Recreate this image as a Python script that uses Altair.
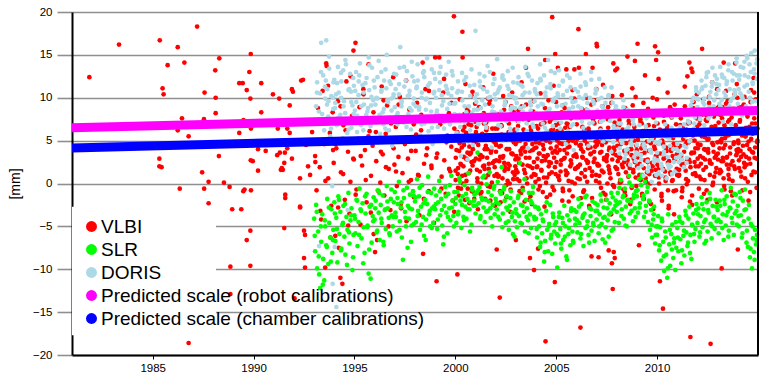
import altair as alt
import pandas as pd

# ---------------- data (year, scale difference in mm) ----------------
VLBI_EARLY = [
    (1981.86, 12.4), (1983.33, 16.2), (1985.35, 16.7), (1987.2, 18.3), (1986.24, 15.9),
    (1985.74, 13.8), (1986.57, 14.1), (1988.3, 14.6), (1989.86, 15.1), (1988.1, 13.2),
    (1989.79, 13.0), (1985.49, 11.1), (1985.54, 10.4), (1987.57, 10.6), (1988.12, 10.0),
    (1989.29, 11.7), (1989.46, 11.7), (1989.66, 10.9), (1989.84, 9.9), (1990.38, 11.7),
    (1990.96, 10.4), (1991.27, 9.9), (1991.95, 10.7), (1991.79, 9.1), (1990.38, 8.3),
    (1988.12, 8.2), (1986.45, 7.6), (1987.54, 7.5), (1989.5, 7.4), (1986.24, 6.2),
    (1986.78, 5.5), (1989.29, 5.9), (1989.87, 6.4), (1991.2, 6.4), (1991.67, 6.4),
    (1991.79, 5.9), (1990.22, 4.0), (1990.6, 3.8), (1991.17, 3.3), (1991.3, 3.6),
    (1991.55, 3.6), (1991.67, 4.1), (1991.9, 2.9), (1991.52, 2.4), (1991.4, 1.8),
    (1991.45, 1.6), (1991.35, 1.6), (1985.33, 2.9), (1985.33, 2.0), (1985.44, 1.9),
    (1988.28, 3.2), (1989.86, 2.7), (1989.96, 2.6), (1987.45, 1.3), (1987.77, 0.2),
    (1988.53, 0.1), (1988.81, -0.4), (1986.34, -0.6), (1987.55, -0.6), (1990.22, 1.5),
    (1992.3, 0.6), (1992.36, 12.0), (1989.49, -0.9), (1989.55, -0.7), (1989.87, -0.8),
    (1987.77, -2.3), (1988.94, -3.0), (1989.39, -3.0), (1991.57, -1.3), (1991.57, -1.7),
    (1992.31, -2.8), (1989.84, -5.5), (1989.66, -6.6), (1991.52, -5.2), (1988.85, -9.7),
    (1989.84, -9.6), (1988.85, -12.9), (1992.03, -13.4), (1986.78, -18.6), (1991.9, 11.0),
]
VLBI_1990S = [
    (1992.45, 12.1), (1992.5, -5.5), (1992.55, -6.0), (1992.5, -8.7), (1992.55, -9.8),
    (1992.6, 4.5), (1992.7, 2.0), (1992.8, 1.0), (1992.9, 6.0), (1992.3, -2.7),
    (1993.05, 3.2), (1993.12, -0.8), (1993.2, 7.4), (1993.28, 1.9), (1993.35, -4.2),
    (1993.42, 10.8), (1993.5, 4.6), (1993.55, -9.8), (1993.6, 14.0), (1993.62, 13.7),
    (1993.7, 0.6), (1993.78, 5.9), (1993.85, -2.6), (1993.92, 8.3), (1993.97, 2.4),
    (1994.05, -6.1), (1994.1, 4.1), (1994.18, 9.6), (1994.22, -7.5), (1994.3, -11.0),
    (1994.33, 1.3), (1994.4, -11.7), (1994.45, 6.8), (1994.52, -1.9), (1994.6, 11.9),
    (1994.68, 3.7), (1994.75, -3.5), (1994.8, 0.2), (1994.88, 7.9), (1994.95, 15.5),
    (1994.97, 2.8), (1995.05, 16.4), (1995.1, -0.7), (1995.18, 5.2), (1995.25, 8.9),
    (1995.3, -4.8), (1995.38, 2.1), (1995.45, 10.4), (1995.52, 3.9), (1995.6, -2.2),
    (1995.7, 13.9), (1995.75, 6.1), (1995.82, 0.9), (1995.9, 4.4), (1995.95, -5.9),
    (1996.02, -8.0), (1996.08, 2.6), (1996.12, -6.6), (1996.2, 7.2), (1996.28, 0.1),
    (1996.35, 11.3), (1996.4, 3.4), (1996.48, -1.4), (1996.55, 5.8), (1996.62, 9.1),
    (1996.7, 1.7), (1996.78, -3.1), (1996.85, 4.9), (1996.92, 12.4), (1996.98, 2.2),
    (1997.05, 6.6), (1997.1, -0.3), (1997.18, 3.1), (1997.25, 10.1), (1997.3, -2.4),
    (1997.38, 1.2), (1997.45, 7.7), (1997.5, 4.6), (1997.58, -4.4), (1997.65, 2.9),
    (1997.72, 8.6), (1997.8, 0.4), (1997.88, 5.3), (1997.95, -1.6), (1998.03, 3.8),
    (1998.1, 9.4), (1998.15, 1.0), (1998.22, -3.7), (1998.3, 6.2), (1998.38, 14.1),
    (1998.4, -8.2), (1998.45, 2.3), (1998.52, 11.0), (1998.6, 4.1), (1998.68, -0.9),
    (1998.75, 7.3), (1998.82, 1.8), (1998.9, 5.0), (1998.95, -2.9), (1999.0, 14.7),
    (1999.07, -11.4), (1999.1, 3.5), (1999.2, 14.7), (1999.25, 6.9), (1999.32, 0.8),
    (1999.4, 10.6), (1999.45, 2.7), (1999.52, -1.2), (1999.6, 5.6), (1999.68, 8.2),
    (1999.75, 1.4), (1999.8, 4.3), (1999.88, -2.0), (1999.93, 19.5), (1999.95, 6.4),
    (1993.06, 2.5), (1993.19, 8.8), (1993.31, -3.2), (1993.44, 5.0), (1993.56, 0.3),
    (1993.69, 11.4), (1993.81, -6.3), (1993.94, 3.9), (1994.06, 4.6), (1994.19, -2.8),
    (1994.31, 9.0), (1994.44, 1.1), (1994.56, 6.2), (1994.69, -4.9), (1994.81, 12.5),
    (1994.94, 2.9), (1995.06, -1.3), (1995.19, 7.5), (1995.31, 3.2), (1995.44, 11.0),
    (1995.56, 0.4), (1995.69, 5.5), (1995.81, -3.4), (1995.94, 8.3), (1996.06, 6.0),
    (1996.19, -0.9), (1996.31, 3.7), (1996.44, 9.7), (1996.56, 1.9), (1996.69, -5.0),
    (1996.81, 7.0), (1996.94, 4.1), (1997.06, 1.4), (1997.19, 9.2), (1997.31, -2.9),
    (1997.44, 5.1), (1997.56, 12.0), (1997.69, 0.2), (1997.81, 3.8), (1997.94, 6.9),
    (1998.06, 5.7), (1998.19, 0.9), (1998.31, 8.0), (1998.44, -1.8), (1998.56, 3.3),
    (1998.69, 10.8), (1998.81, 2.1), (1998.94, -4.6), (1999.06, 3.0), (1999.19, 7.9),
    (1999.31, -0.6), (1999.44, 12.2), (1999.56, 4.8), (1999.69, 1.7), (1999.81, 9.4),
    (1999.94, -3.3),
]
VLBI_2000S = [
    (2000.02, 3.0), (2000.06, 7.9), (2000.1, -10.6), (2000.12, 1.1), (2000.18, 5.4),
    (2000.22, 9.8), (2000.28, -0.6), (2000.32, 4.2), (2000.35, 17.7), (2000.36, 14.7),
    (2000.4, 2.0), (2000.45, 6.6), (2000.5, 11.6), (2000.55, 0.3), (2000.6, 3.6),
    (2000.65, 8.4), (2000.7, -2.3), (2000.75, 5.1), (2000.8, 2.5), (2000.85, 10.7),
    (2000.9, -1.0), (2000.95, 4.8), (2001.02, 6.0), (2001.07, 1.6), (2001.12, -3.0),
    (2001.17, 8.8), (2001.22, 3.3), (2001.28, 0.0), (2001.33, 5.7), (2001.38, 11.2),
    (2001.43, 2.1), (2001.48, -1.8), (2001.53, 7.1), (2001.58, 4.0), (2001.63, 1.0),
    (2001.68, 9.3), (2001.73, -0.4), (2001.78, 3.9), (2001.83, 6.4), (2001.88, 12.8),
    (2001.93, 2.6), (2001.97, -2.6), (2002.02, 4.5), (2002.05, -7.7), (2002.1, 8.1),
    (2002.15, 0.9), (2002.2, -13.3), (2002.22, 3.1), (2002.27, 6.8), (2002.32, -1.1),
    (2002.37, 10.2), (2002.42, 2.4), (2002.47, 5.3), (2002.52, -0.2), (2002.57, 7.6),
    (2002.62, 1.7), (2002.67, 4.0), (2002.72, -3.3), (2002.77, 9.0), (2002.82, 3.5),
    (2002.87, 0.5), (2002.92, 6.1), (2002.97, 2.0), (2003.0, -6.6), (2003.03, 5.5),
    (2003.08, 1.3), (2003.13, 8.5), (2003.18, -0.9), (2003.23, 3.8), (2003.28, 11.8),
    (2003.33, 2.2), (2003.38, 6.3), (2003.43, -2.1), (2003.48, 4.6), (2003.5, 13.5),
    (2003.53, 0.6), (2003.6, 15.7), (2003.62, 7.4), (2003.67, 3.0), (2003.7, -8.7),
    (2003.72, -1.5), (2003.77, 5.9), (2003.82, 1.8), (2003.87, 9.6), (2003.9, -10.1),
    (2003.92, 4.1), (2003.97, 0.2), (2004.02, 6.7), (2004.07, 2.9), (2004.1, -7.6),
    (2004.12, -0.7), (2004.17, 4.7), (2004.22, 10.5), (2004.27, 1.5), (2004.32, 7.0),
    (2004.37, 3.2), (2004.42, -2.7), (2004.45, 14.4), (2004.47, -18.4), (2004.5, 5.0),
    (2004.55, 0.7), (2004.6, 8.3), (2004.65, 2.5), (2004.7, -1.3), (2004.75, 6.2),
    (2004.8, 19.4), (2004.82, 3.6), (2004.87, 11.4), (2004.93, -11.5), (2004.95, 15.1),
    (2004.97, 1.1), (2005.02, 4.3), (2005.08, 13.5), (2005.1, 7.8), (2005.15, 0.4),
    (2005.2, 5.6), (2005.25, 2.7), (2005.3, -2.0), (2005.35, 9.1), (2005.4, 3.9),
    (2005.45, 6.5), (2005.5, 13.3), (2005.55, 1.2), (2005.6, 4.9), (2005.65, -0.8),
    (2005.7, 8.0), (2005.75, 2.3), (2005.8, 10.9), (2005.85, 5.2), (2005.9, 13.3),
    (2005.92, 0.0), (2005.97, 3.4), (2006.02, 6.9), (2006.07, 1.9), (2006.1, 18.0),
    (2006.12, 13.5), (2006.15, 4.4), (2006.2, -16.8), (2006.22, -1.7), (2006.27, 8.7),
    (2006.32, 3.0), (2006.37, 5.8), (2006.42, 0.8), (2006.47, 15.1), (2006.5, 10.0),
    (2006.55, 2.4), (2006.6, 6.4), (2006.65, -2.8), (2006.7, 4.2), (2006.75, -8.5),
    (2006.78, 1.4), (2006.8, 13.5), (2006.83, 7.5), (2006.88, 3.7), (2006.93, 9.7),
    (2006.97, 0.3), (2007.0, 16.3), (2007.02, 16.0), (2007.05, 5.0), (2007.1, -8.6),
    (2007.12, 2.1), (2007.17, 7.2), (2007.22, -0.5), (2007.27, 4.5), (2007.32, 11.5),
    (2007.37, 2.8), (2007.42, 6.0), (2007.47, -1.9), (2007.52, 3.3), (2007.57, 8.9),
    (2007.6, -7.8), (2007.62, 1.6), (2007.67, 5.4), (2007.72, -3.6), (2007.76, -9.3),
    (2007.8, -12.3), (2007.83, 14.0), (2007.85, -8.0), (2007.88, 3.9), (2007.9, -8.7),
    (2007.93, 13.2), (2007.97, 6.8), (2008.02, 13.4), (2008.05, 2.6), (2008.1, 7.9),
    (2008.15, 0.1), (2008.2, 4.8), (2008.25, 10.3), (2008.3, 1.9), (2008.35, 6.2),
    (2008.4, -1.0), (2008.45, 3.5), (2008.5, 8.6), (2008.53, 14.8), (2008.57, 2.2),
    (2008.62, 5.7), (2008.67, -2.4), (2008.72, 4.0), (2008.77, 11.1), (2008.82, 1.3),
    (2008.87, 6.6), (2008.9, 14.3), (2008.93, 3.1), (2008.97, -0.3), (2009.03, 16.3),
    (2009.05, 5.1), (2009.1, -7.2), (2009.12, 1.0), (2009.17, 7.5), (2009.22, 3.4),
    (2009.27, -1.5), (2009.32, 9.4), (2009.37, 4.3), (2009.4, 12.6), (2009.43, 0.6),
    (2009.48, 6.0), (2009.53, 2.5), (2009.58, 8.1), (2009.63, -2.2), (2009.68, 4.7),
    (2009.73, 1.5), (2009.78, 10.0), (2009.83, 5.3), (2009.88, -0.7), (2009.9, 16.0),
    (2009.95, 14.4), (2009.97, 3.0),
]
VLBI_2000S_B = [
    (2000.01, 1.5), (2000.08, 5.9), (2000.13, -0.5), (2000.19, 3.8), (2000.24, 7.4),
    (2000.29, 2.2), (2000.34, 0.9), (2000.39, 6.2), (2000.43, 4.5), (2000.48, -1.9),
    (2000.53, 2.9), (2000.58, 8.7), (2000.63, 5.3), (2000.67, 1.2), (2000.72, 3.4),
    (2000.78, 6.8), (2000.82, -0.9), (2000.87, 4.0), (2000.92, 2.6), (2000.98, 9.3),
    (2001.01, 4.9), (2001.09, 0.6), (2001.14, 7.3), (2001.19, 2.8), (2001.24, -1.2),
    (2001.31, 5.6), (2001.35, 3.1), (2001.41, 8.2), (2001.45, 1.7), (2001.51, 4.4),
    (2001.56, 6.5), (2001.61, -0.3), (2001.66, 2.3), (2001.71, 9.7), (2001.76, 3.6),
    (2001.81, 0.1), (2001.86, 5.2), (2001.91, 7.9), (2001.95, 1.9), (2001.99, 4.7),
    (2002.03, 2.7), (2002.08, 6.4), (2002.12, 0.8), (2002.18, 4.3), (2002.24, -2.2),
    (2002.29, 5.7), (2002.34, 3.0), (2002.39, 7.8), (2002.44, 1.5), (2002.49, 9.5),
    (2002.54, 4.0), (2002.59, 0.3), (2002.64, 6.0), (2002.69, 2.1), (2002.74, -0.7),
    (2002.79, 5.1), (2002.84, 3.4), (2002.89, 8.4), (2002.94, 1.0), (2002.99, 4.6),
    (2003.02, 3.2), (2003.06, 0.5), (2003.11, 6.7), (2003.16, 2.4), (2003.21, 5.0),
    (2003.26, -1.1), (2003.31, 4.1), (2003.36, 7.5), (2003.41, 1.6), (2003.46, 3.7),
    (2003.51, 9.2), (2003.56, 0.0), (2003.64, 5.5), (2003.69, 2.0), (2003.74, 6.2),
    (2003.79, -2.4), (2003.84, 3.9), (2003.89, 1.1), (2003.94, 8.0), (2003.99, 4.8),
    (2004.04, 1.9), (2004.09, 5.4), (2004.14, 3.5), (2004.19, -0.3), (2004.24, 6.9),
    (2004.29, 2.6), (2004.34, 4.5), (2004.39, 0.7), (2004.44, 8.8), (2004.49, 3.1),
    (2004.53, -1.6), (2004.58, 5.8), (2004.63, 2.0), (2004.68, 7.2), (2004.73, 4.1),
    (2004.78, 1.3), (2004.84, 6.3), (2004.89, -0.8), (2004.94, 3.8), (2004.99, 9.5),
    (2005.04, 3.6), (2005.06, 6.1), (2005.12, 0.9), (2005.17, 4.7), (2005.22, 2.2),
    (2005.27, 8.3), (2005.32, -0.6), (2005.37, 5.4), (2005.42, 3.0), (2005.47, 1.5),
    (2005.52, 7.0), (2005.57, 4.2), (2005.62, -2.1), (2005.67, 6.6), (2005.72, 2.7),
    (2005.77, 0.2), (2005.82, 5.0), (2005.87, 9.6), (2005.94, 3.3), (2005.99, 1.8),
    (2006.03, 5.2), (2006.08, 2.0), (2006.13, 7.7), (2006.17, 0.5), (2006.24, 4.0),
    (2006.29, 3.1), (2006.34, -1.0), (2006.39, 6.3), (2006.44, 1.6), (2006.49, 8.6),
    (2006.53, 4.6), (2006.58, 2.5), (2006.63, -2.6), (2006.68, 5.6), (2006.72, 3.5),
    (2006.77, 0.9), (2006.86, 7.1), (2006.9, 2.9), (2006.95, 4.9), (2006.99, 11.0),
    (2007.04, 2.3), (2007.08, 4.8), (2007.14, 0.1), (2007.19, 6.4), (2007.24, 3.7),
    (2007.29, 9.0), (2007.34, 1.3), (2007.39, 5.3), (2007.44, -1.3), (2007.49, 3.0),
    (2007.54, 7.5), (2007.59, 2.0), (2007.64, 4.2), (2007.69, 0.6), (2007.74, 6.0),
    (2007.78, 10.2), (2007.82, 3.5), (2007.87, -0.4), (2007.92, 5.7), (2007.99, 1.7),
    (2008.03, 4.4), (2008.08, 1.1), (2008.12, 6.8), (2008.17, 3.0), (2008.22, 0.2),
    (2008.27, 5.6), (2008.32, 8.2), (2008.37, 2.5), (2008.42, -1.4), (2008.47, 4.7),
    (2008.52, 3.6), (2008.59, 7.3), (2008.64, 1.8), (2008.69, 5.0), (2008.74, -0.5),
    (2008.79, 9.1), (2008.84, 2.9), (2008.89, 6.1), (2008.94, 0.7), (2008.99, 3.9),
    (2009.01, 2.0), (2009.07, 5.9), (2009.14, 3.3), (2009.19, 0.4), (2009.24, 7.0),
    (2009.29, 4.5), (2009.34, -1.8), (2009.39, 2.7), (2009.45, 6.3), (2009.5, 1.3),
    (2009.55, 8.7), (2009.6, 3.8), (2009.65, 0.0), (2009.7, 5.2), (2009.75, 2.4),
    (2009.8, -3.0), (2009.85, 6.7), (2009.89, 4.0), (2009.93, 1.6), (2009.99, 9.8),
]
VLBI_2000S_C = [
    (2000.015, 0.4), (2000.055, 3.9), (2000.095, 6.0), (2000.135, 1.8), (2000.175, -1.4),
    (2000.215, 4.7), (2000.255, 2.3), (2000.295, 7.6), (2000.335, 5.5), (2000.375, 0.0),
    (2000.415, 3.1), (2000.455, 8.1), (2000.495, 1.0), (2000.535, 5.9), (2000.575, 2.8),
    (2000.615, -0.6), (2000.655, 6.9), (2000.695, 4.3), (2000.735, 1.5), (2000.775, 3.6),
    (2000.815, 10.2), (2000.855, 2.1), (2000.895, 5.0), (2000.935, -1.8), (2000.975, 7.2),
    (2001.015, 2.9), (2001.055, 6.6), (2001.095, 0.2), (2001.135, 4.5), (2001.175, 8.9),
    (2001.215, 1.4), (2001.255, 3.3), (2001.295, -1.0), (2001.335, 5.8), (2001.375, 2.0),
    (2001.415, 7.0), (2001.455, 4.0), (2001.495, 0.7), (2001.535, 6.2), (2001.575, 3.0),
    (2001.615, 9.9), (2001.655, 1.7), (2001.695, 5.1), (2001.735, -2.0), (2001.775, 3.8),
    (2001.815, 7.7), (2001.855, 2.4), (2001.895, 4.9), (2001.935, 0.9), (2001.975, 6.4),
    (2002.015, 3.7), (2002.055, 1.1), (2002.095, 5.5), (2002.135, 7.9), (2002.175, 2.6),
    (2002.215, -0.9), (2002.255, 4.4), (2002.295, 6.7), (2002.335, 0.6), (2002.375, 3.2),
    (2002.415, 8.6), (2002.455, 1.9), (2002.495, 5.1), (2002.535, -1.6), (2002.575, 4.0),
    (2002.615, 2.3), (2002.655, 7.0), (2002.695, 0.0), (2002.735, 5.9), (2002.775, 3.5),
    (2002.815, 10.6), (2002.855, 1.3), (2002.895, 4.8), (2002.935, 6.3), (2002.975, 2.8),
    (2003.015, 1.6), (2003.055, 4.9), (2003.095, 7.3), (2003.135, 2.9), (2003.175, 0.3),
    (2003.215, 5.6), (2003.255, 3.4), (2003.295, 9.0), (2003.335, -0.5), (2003.375, 4.2),
    (2003.415, 6.0), (2003.455, 1.2), (2003.495, 3.0), (2003.535, 7.8), (2003.575, 2.1),
    (2003.615, 5.1), (2003.655, -1.9), (2003.695, 3.8), (2003.735, 6.6), (2003.775, 0.8),
    (2003.815, 4.6), (2003.855, 8.4), (2003.895, 2.5), (2003.935, 5.7), (2003.975, 1.0),
    (2004.015, 4.2), (2004.055, 2.0), (2004.095, 6.4), (2004.135, 0.5), (2004.175, 3.5),
    (2004.215, 8.0), (2004.255, 1.6), (2004.295, 5.2), (2004.335, -1.0), (2004.375, 4.0),
    (2004.415, 7.1), (2004.455, 2.7), (2004.495, 0.1), (2004.535, 6.0), (2004.575, 3.3),
    (2004.615, 9.7), (2004.655, 1.1), (2004.695, 4.8), (2004.735, 2.4), (2004.775, 7.5),
    (2004.815, -0.4), (2004.855, 5.5), (2004.895, 3.0), (2004.935, 1.9), (2004.975, 6.8),
    (2005.015, 2.5), (2005.055, 5.0), (2005.095, 0.8), (2005.135, 7.0), (2005.175, 3.9),
    (2005.215, 1.4), (2005.255, 6.2), (2005.295, 4.6), (2005.335, -0.9), (2005.375, 2.9),
    (2005.415, 8.8), (2005.455, 5.7), (2005.495, 1.0), (2005.535, 3.5), (2005.575, 6.9),
    (2005.615, 0.3), (2005.655, 4.3), (2005.695, 2.0), (2005.735, 7.6), (2005.775, 5.1),
    (2005.815, -1.5), (2005.855, 3.2), (2005.895, 9.9), (2005.935, 1.7), (2005.975, 4.7),
    (2006.015, 3.1), (2006.055, 0.6), (2006.095, 5.3), (2006.135, 7.8), (2006.175, 2.2),
    (2006.215, 4.5), (2006.255, 1.2), (2006.295, 6.6), (2006.335, 3.7), (2006.375, -0.8),
    (2006.415, 5.0), (2006.455, 8.3), (2006.495, 2.7), (2006.535, 0.2), (2006.575, 4.1),
    (2006.615, 6.1), (2006.655, 1.8), (2006.695, 3.4), (2006.735, 9.2), (2006.775, -1.7),
    (2006.815, 5.8), (2006.855, 2.5), (2006.895, 7.0), (2006.935, 4.3), (2006.975, 1.0),
    (2007.015, 4.5), (2007.055, 2.1), (2007.095, 6.0), (2007.135, 0.9), (2007.175, 3.6),
    (2007.215, 7.7), (2007.255, 1.5), (2007.295, 5.1), (2007.335, -1.1), (2007.375, 3.0),
    (2007.415, 8.4), (2007.455, 4.8), (2007.495, 2.6), (2007.535, 0.0), (2007.575, 6.5),
    (2007.615, 3.9), (2007.655, 1.2), (2007.695, 5.6), (2007.735, 9.4), (2007.775, 2.8),
    (2007.815, -0.2), (2007.855, 4.2), (2007.895, 7.1), (2007.935, 1.9), (2007.975, 3.3),
    (2008.015, 1.7), (2008.055, 5.2), (2008.095, 3.1), (2008.135, 7.4), (2008.175, 0.4),
    (2008.215, 4.6), (2008.255, 2.2), (2008.295, 6.3), (2008.335, -0.7), (2008.375, 3.8),
    (2008.415, 8.8), (2008.455, 1.3), (2008.495, 5.5), (2008.535, 2.7), (2008.575, 0.8),
    (2008.615, 6.9), (2008.655, 4.0), (2008.695, -1.9), (2008.735, 3.3), (2008.775, 7.9),
    (2008.815, 1.6), (2008.855, 5.0), (2008.895, 2.5), (2008.935, 10.1), (2008.975, 4.4),
    (2009.015, 3.0), (2009.055, 0.6), (2009.095, 5.7), (2009.135, 2.3), (2009.175, 7.2),
    (2009.215, 4.1), (2009.255, -1.2), (2009.295, 6.1), (2009.335, 1.8), (2009.375, 3.6),
    (2009.415, 8.4), (2009.455, 0.2), (2009.495, 4.9), (2009.535, 2.8), (2009.575, 6.8),
    (2009.615, 1.1), (2009.655, 3.9), (2009.695, -2.4), (2009.735, 5.4), (2009.775, 2.0),
    (2009.815, 7.7), (2009.855, 4.3), (2009.895, 0.9), (2009.935, 3.2), (2009.975, 6.0),
]
VLBI_2010S = [
    (2010.02, 7.0), (2010.05, 15.3), (2010.07, 12.2), (2010.1, 1.8), (2010.14, -11.4),
    (2010.17, 4.9), (2010.22, -1.2), (2010.27, 8.3), (2010.29, -14.6), (2010.32, 2.9),
    (2010.37, 6.1), (2010.42, 0.3), (2010.47, 3.8), (2010.52, 10.6), (2010.57, -2.9),
    (2010.62, 5.5), (2010.67, 1.1), (2010.72, 7.7), (2010.77, 3.2), (2010.82, -0.9),
    (2010.87, 9.2), (2010.92, 4.4), (2010.97, 1.7), (2011.02, 5.8), (2011.07, 0.9),
    (2011.12, 8.0), (2011.17, 3.0), (2011.22, -1.6), (2011.27, 6.5), (2011.32, 2.0),
    (2011.37, 11.3), (2011.42, 4.6), (2011.47, -0.1), (2011.5, 12.5), (2011.55, 7.1),
    (2011.6, 14.1), (2011.62, 2.5), (2011.65, -17.9), (2011.68, 5.0), (2011.7, 13.4),
    (2011.73, -2.5), (2011.75, 13.0), (2011.78, 8.8), (2011.83, 3.6), (2011.88, 1.2),
    (2011.93, 6.3), (2011.97, 10.4), (2012.02, 4.1), (2012.07, -0.6), (2012.12, 7.4),
    (2012.17, 2.3), (2012.23, 15.7), (2012.25, 5.6), (2012.3, 9.8), (2012.35, 0.4),
    (2012.4, 3.9), (2012.45, 7.9), (2012.5, -1.9), (2012.55, 5.2), (2012.6, 2.7),
    (2012.65, -18.7), (2012.68, 8.5), (2012.73, 11.8), (2012.78, 4.5), (2012.83, 0.8),
    (2012.88, 6.7), (2012.93, 3.3), (2012.97, -2.2), (2013.02, 6.0), (2013.07, 9.0),
    (2013.12, 1.6), (2013.17, 4.8), (2013.2, -9.9), (2013.22, 7.6), (2013.27, 2.6),
    (2013.3, 14.1), (2013.32, -0.3), (2013.37, 5.3), (2013.42, 10.8), (2013.47, 3.1),
    (2013.52, 7.2), (2013.57, 0.5), (2013.62, 4.2), (2013.67, 8.4), (2013.72, -1.4),
    (2013.77, 5.9), (2013.82, 2.0), (2013.87, 14.0), (2013.9, 6.8), (2013.95, 11.6),
    (2013.98, 3.6), (2014.0, -7.7), (2014.03, 4.7), (2014.08, 8.9), (2014.13, 1.4),
    (2014.18, 6.3), (2014.23, -0.8), (2014.28, 3.4), (2014.33, 10.1), (2014.38, 5.5),
    (2014.43, 2.2), (2014.48, 7.8), (2014.53, -2.0), (2014.58, 4.0), (2014.63, 9.5),
    (2014.68, 1.0), (2014.73, 6.0), (2014.78, 12.3), (2014.83, 3.0), (2014.88, 7.0),
    (2014.93, -0.5), (2014.97, 5.0),
]
VLBI_2010S_B = [
    (2010.01, 3.4), (2010.08, 0.7), (2010.12, 5.8), (2010.19, 2.1), (2010.24, -2.0),
    (2010.3, 4.6), (2010.34, 7.2), (2010.39, 1.4), (2010.44, 3.9), (2010.49, 6.4),
    (2010.54, -0.8), (2010.59, 2.6), (2010.64, 8.9), (2010.69, 4.2), (2010.74, 0.3),
    (2010.79, 5.3), (2010.84, -3.6), (2010.89, 2.9), (2010.94, 6.9), (2010.99, 1.0),
    (2011.04, 4.1), (2011.09, 1.6), (2011.14, 6.8), (2011.19, 3.2), (2011.24, -0.9),
    (2011.29, 5.5), (2011.34, 2.3), (2011.39, 8.4), (2011.44, 0.5), (2011.49, 4.9),
    (2011.53, 7.0), (2011.58, 2.8), (2011.63, -2.1), (2011.67, 6.0), (2011.72, 3.6),
    (2011.77, 1.1), (2011.81, 9.5), (2011.86, 5.0), (2011.91, 2.0), (2011.96, 7.6),
    (2012.01, 2.9), (2012.06, 6.2), (2012.1, 0.8), (2012.15, 4.5), (2012.2, 8.0),
    (2012.27, 3.0), (2012.32, -1.2), (2012.37, 5.4), (2012.42, 1.9), (2012.47, 7.3),
    (2012.52, 4.0), (2012.57, 10.1), (2012.62, 2.4), (2012.7, 6.6), (2012.75, -0.2),
    (2012.8, 3.7), (2012.85, 5.8), (2012.9, 1.3), (2012.95, 8.8), (2012.99, 4.8),
    (2013.01, 3.5), (2013.05, 7.1), (2013.1, 1.2), (2013.14, 5.0), (2013.19, 2.6),
    (2013.24, 8.9), (2013.29, 4.1), (2013.34, -0.7), (2013.39, 6.4), (2013.44, 3.0),
    (2013.49, 9.6), (2013.54, 1.7), (2013.59, 5.7), (2013.64, 2.2), (2013.69, 7.7),
    (2013.74, 0.3), (2013.79, 4.6), (2013.84, 10.4), (2013.92, 3.3), (2013.97, 6.0),
    (2014.02, 4.0), (2014.06, 1.8), (2014.11, 7.4), (2014.16, 3.1), (2014.21, 5.6),
    (2014.26, 9.0), (2014.31, 2.4), (2014.36, 0.6), (2014.41, 6.5), (2014.46, 4.5),
    (2014.51, 8.2), (2014.56, 2.9), (2014.61, -1.0), (2014.66, 5.2), (2014.71, 7.0),
    (2014.76, 3.6), (2014.81, 10.6), (2014.86, 1.3), (2014.91, 6.1), (2014.96, 4.8),
]
VLBI_2010S_C = [
    (2010.015, 2.2), (2010.055, 4.7), (2010.095, 0.0), (2010.135, 6.3), (2010.175, 3.5),
    (2010.215, -1.5), (2010.255, 5.0), (2010.295, 1.7), (2010.335, 7.9), (2010.375, 3.0),
    (2010.415, 0.7), (2010.455, 4.2), (2010.495, 6.7), (2010.535, 2.4), (2010.575, -2.6),
    (2010.615, 5.5), (2010.655, 1.3), (2010.695, 3.8), (2010.735, 8.6), (2010.775, 0.4),
    (2010.815, 4.6), (2010.855, 2.8), (2010.895, 6.1), (2010.935, -0.8), (2010.975, 3.4),
    (2011.015, 3.3), (2011.055, 5.9), (2011.095, 1.0), (2011.135, 4.4), (2011.175, 7.6),
    (2011.215, 2.2), (2011.255, -0.5), (2011.295, 5.2), (2011.335, 3.7), (2011.375, 9.0),
    (2011.415, 1.5), (2011.455, 6.3), (2011.495, 2.7), (2011.535, 0.3), (2011.575, 4.8),
    (2011.615, 7.1), (2011.655, 1.9), (2011.695, 3.5), (2011.735, -1.4), (2011.775, 5.6),
    (2011.815, 8.2), (2011.855, 2.5), (2011.895, 4.1), (2011.935, 0.9), (2011.975, 6.6),
    (2012.015, 4.6), (2012.055, 2.0), (2012.095, 6.9), (2012.135, 3.2), (2012.175, 0.5),
    (2012.215, 5.5), (2012.255, 8.3), (2012.295, 1.6), (2012.335, 4.0), (2012.375, 2.8),
    (2012.415, 7.4), (2012.455, -0.8), (2012.495, 5.1), (2012.535, 3.6), (2012.575, 9.4),
    (2012.615, 1.0), (2012.655, 6.2), (2012.695, 2.3), (2012.735, 4.7), (2012.775, 0.1),
    (2012.815, 7.8), (2012.855, 3.0), (2012.895, 5.8), (2012.935, 1.8), (2012.975, 11.0),
    (2013.015, 2.8), (2013.055, 6.0), (2013.095, 4.1), (2013.135, 8.0), (2013.175, 1.4),
    (2013.215, 5.2), (2013.255, 3.0), (2013.295, 0.6), (2013.335, 6.8), (2013.375, 4.5),
    (2013.415, 9.3), (2013.455, 2.2), (2013.495, 5.6), (2013.535, 1.0), (2013.575, 7.4),
    (2013.615, 3.5), (2013.655, -0.9), (2013.695, 6.3), (2013.735, 2.6), (2013.775, 8.7),
    (2013.815, 4.8), (2013.855, 1.7), (2013.895, 5.9), (2013.935, 3.9), (2013.975, 10.0),
    (2014.015, 5.0), (2014.055, 2.7), (2014.095, 7.2), (2014.135, 3.8), (2014.175, 0.8),
    (2014.215, 6.0), (2014.255, 4.4), (2014.295, 9.2), (2014.335, 1.9), (2014.375, 5.5),
    (2014.415, 3.1), (2014.455, 8.1), (2014.495, 0.2), (2014.535, 4.9), (2014.575, 6.6),
    (2014.615, 2.3), (2014.655, 10.9), (2014.695, 3.7), (2014.735, 5.8), (2014.775, 1.4),
    (2014.815, 7.6), (2014.855, 4.2), (2014.895, 9.8), (2014.935, 2.9), (2014.975, 6.4),
]

SLR_1990S = [
    (1993.0, -4.1), (1993.05, -7.9), (1993.1, -2.5), (1993.15, -9.9), (1993.2, -5.6),
    (1993.25, -10.6), (1993.3, -12.2), (1993.35, -6.8), (1993.4, -3.6), (1993.45, -8.8),
    (1993.5, -11.3), (1993.55, -5.0), (1993.6, -7.2), (1993.65, -1.8), (1993.7, -9.4),
    (1993.75, -4.6), (1993.8, -6.3), (1993.85, -3.0), (1993.9, -8.1), (1993.95, -5.4),
    (1994.0, -2.2), (1994.05, -6.7), (1994.1, -4.0), (1994.15, -9.2), (1994.2, -1.5),
    (1994.25, -5.9), (1994.3, -3.3), (1994.35, -7.6), (1994.4, -4.8), (1994.45, -2.6),
    (1994.5, -6.2), (1994.55, -8.3), (1994.6, -3.9), (1994.65, -5.4), (1994.7, -1.1),
    (1994.75, -7.0), (1994.8, -4.3), (1994.85, -2.9), (1994.9, -10.1), (1994.95, -6.0),
    (1995.0, -3.7), (1995.05, -5.8), (1995.1, -1.9), (1995.15, -7.3), (1995.2, -4.5),
    (1995.25, -0.6), (1995.3, -3.0), (1995.35, -6.4), (1995.4, -2.3), (1995.45, -5.1),
    (1995.5, -8.1), (1995.55, -3.5), (1995.6, -1.2), (1995.65, -4.9), (1995.7, -10.5),
    (1995.75, -2.7), (1995.8, -11.1), (1995.85, -6.9), (1995.9, -3.8), (1995.95, -1.6),
    (1996.0, -4.2), (1996.05, -2.0), (1996.1, -5.7), (1996.15, -0.8), (1996.2, -3.4),
    (1996.25, -6.6), (1996.3, -2.5), (1996.35, -4.6), (1996.4, -1.4), (1996.45, -7.2),
    (1996.5, -3.1), (1996.55, -5.3), (1996.6, -0.3), (1996.65, -2.9), (1996.7, -4.0),
    (1996.75, -6.0), (1996.8, -1.8), (1996.85, -3.7), (1996.9, -5.0), (1996.95, -2.2),
    (1997.0, -1.0), (1997.05, -3.9), (1997.1, -5.6), (1997.15, -2.4), (1997.2, 0.2),
    (1997.25, -4.4), (1997.3, -2.8), (1997.35, -6.3), (1997.4, -8.9), (1997.45, -1.7),
    (1997.5, -3.3), (1997.55, -5.0), (1997.6, -0.5), (1997.65, -2.6), (1997.7, -4.1),
    (1997.75, -1.3), (1997.8, -6.8), (1997.85, -3.0), (1997.9, -0.9), (1997.95, -4.7),
    (1998.0, -2.1), (1998.05, -4.5), (1998.1, 0.5), (1998.15, -3.2), (1998.2, -1.5),
    (1998.25, -5.4), (1998.3, -2.7), (1998.35, -0.2), (1998.4, -3.9), (1998.45, -6.1),
    (1998.5, -1.9), (1998.55, -4.2), (1998.6, -2.4), (1998.65, 0.8), (1998.7, -3.6),
    (1998.75, -5.0), (1998.8, -1.1), (1998.85, -2.9), (1998.9, -4.6), (1998.95, -0.6),
    (1999.0, -3.0), (1999.05, -1.4), (1999.1, -5.3), (1999.15, -2.2), (1999.2, 0.3),
    (1999.25, -3.7), (1999.3, -1.8), (1999.35, -4.9), (1999.4, -7.1), (1999.45, -2.6),
    (1999.5, -0.4), (1999.55, -3.4), (1999.6, -5.8), (1999.65, -1.2), (1999.7, -2.9),
    (1999.75, -4.3), (1999.8, 0.9), (1999.85, -2.0), (1999.9, -3.8), (1999.95, -1.0),
    (1993.03, -6.1), (1993.13, -3.3), (1993.23, -8.5), (1993.33, -5.0), (1993.43, -11.8),
    (1993.53, -4.3), (1993.63, -7.4), (1993.73, -2.8), (1993.83, -9.1), (1993.93, -6.6),
    (1994.03, -3.5), (1994.13, -5.3), (1994.23, -1.9), (1994.33, -7.8), (1994.43, -4.6),
    (1994.53, -2.4), (1994.63, -9.5), (1994.73, -5.7), (1994.83, -3.7), (1994.93, -8.6),
    (1995.03, -4.1), (1995.13, -2.0), (1995.23, -6.0), (1995.33, -3.2), (1995.43, -9.3),
    (1995.53, -1.5), (1995.63, -5.1), (1995.73, -7.7), (1995.83, -2.5), (1995.93, -4.4),
    (1996.03, -2.9), (1996.13, -5.5), (1996.23, -1.1), (1996.33, -4.1), (1996.43, -6.8),
    (1996.53, -3.0), (1996.63, -2.1), (1996.73, -5.8), (1996.83, -0.7), (1996.93, -3.9),
    (1997.03, -3.4), (1997.13, -1.7), (1997.23, -5.4), (1997.33, -2.2), (1997.43, -0.8),
    (1997.53, -4.0), (1997.63, -7.5), (1997.73, -2.9), (1997.83, -4.9), (1997.93, -1.4),
    (1998.03, -1.6), (1998.13, -3.8), (1998.23, -0.5), (1998.33, -4.8), (1998.43, -2.3),
    (1998.53, -6.6), (1998.63, -1.0), (1998.73, -3.2), (1998.83, -5.2), (1998.93, -2.7),
    (1999.03, -2.4), (1999.13, -4.2), (1999.23, -0.9), (1999.33, -3.1), (1999.43, -6.2),
    (1999.53, -1.5), (1999.63, -3.9), (1999.73, -0.2), (1999.83, -2.8), (1999.93, -5.0),
]
SLR_2000S = [
    (2000.0, -2.4), (2000.05, -4.6), (2000.1, -1.0), (2000.15, -3.3), (2000.2, 0.6),
    (2000.25, -2.0), (2000.3, -5.2), (2000.35, -1.5), (2000.4, -3.9), (2000.45, -0.2),
    (2000.5, -2.7), (2000.55, -4.1), (2000.6, -1.8), (2000.65, 1.2), (2000.7, -3.0),
    (2000.75, -2.2), (2000.8, -4.8), (2000.85, -0.8), (2000.9, -2.6), (2000.95, -1.3),
    (2001.0, -3.5), (2001.05, -1.1), (2001.1, 3.6), (2001.15, -2.3), (2001.2, -0.4),
    (2001.25, -3.8), (2001.3, -1.6), (2001.35, 0.7), (2001.4, -2.8), (2001.45, -4.5),
    (2001.5, -1.9), (2001.55, -0.1), (2001.6, -3.2), (2001.65, -2.1), (2001.7, 1.3),
    (2001.75, -4.0), (2001.8, -1.4), (2001.85, -2.5), (2001.9, -0.6), (2001.95, -3.6),
    (2002.0, -1.8), (2002.05, -3.0), (2002.1, 0.2), (2002.15, -2.4), (2002.2, -4.2),
    (2002.25, -1.2), (2002.3, 1.9), (2002.35, -3.5), (2002.4, -0.7), (2002.45, -2.0),
    (2002.5, -4.6), (2002.55, -1.5), (2002.6, -3.1), (2002.65, -5.4), (2002.7, -2.6),
    (2002.75, -0.9), (2002.8, -3.9), (2002.85, -5.9), (2002.9, -2.2), (2002.95, -4.4),
    (2003.0, -3.0), (2003.05, -5.1), (2003.1, -1.7), (2003.15, -3.8), (2003.2, 2.4),
    (2003.25, -2.5), (2003.3, -4.7), (2003.35, -0.8), (2003.4, -3.3), (2003.45, -5.6),
    (2003.5, -1.9), (2003.55, -2.9), (2003.6, -4.3), (2003.65, -1.1), (2003.7, -3.6),
    (2003.75, -5.2), (2003.8, -2.3), (2003.85, -0.4), (2003.9, -3.9), (2003.95, -2.7),
    (2004.0, -4.1), (2004.05, -6.3), (2004.1, -2.8), (2004.15, -5.0), (2004.2, -7.4),
    (2004.25, -3.6), (2004.3, -5.8), (2004.35, -4.4), (2004.4, -9.1), (2004.45, -6.7),
    (2004.5, -3.2), (2004.55, -5.4), (2004.6, -7.9), (2004.65, -4.7), (2004.7, -2.5),
    (2004.75, -6.0), (2004.8, -8.2), (2004.85, -3.9), (2004.9, -5.6), (2004.95, -7.0),
    (2005.0, -4.5), (2005.05, -9.8), (2005.1, -6.1), (2005.15, -3.4), (2005.2, -5.3),
    (2005.25, -7.6), (2005.3, -4.0), (2005.35, -6.6), (2005.4, -2.6), (2005.45, -5.0),
    (2005.5, -8.5), (2005.55, -3.7), (2005.6, -5.9), (2005.65, -4.3), (2005.7, -7.2),
    (2005.75, -2.9), (2005.8, -5.6), (2005.85, -6.9), (2005.9, -3.1), (2005.95, -4.8),
    (2006.0, -3.3), (2006.05, -5.7), (2006.1, -1.8), (2006.15, -4.6), (2006.2, -6.4),
    (2006.25, -2.4), (2006.3, -4.0), (2006.35, -7.3), (2006.4, -3.5), (2006.45, -5.2),
    (2006.5, -1.4), (2006.55, -4.4), (2006.6, -6.0), (2006.65, -2.9), (2006.7, -3.8),
    (2006.75, -5.5), (2006.8, -2.1), (2006.85, -4.9), (2006.9, -6.7), (2006.95, -3.2),
    (2007.0, -4.2), (2007.05, -2.5), (2007.1, -5.8), (2007.15, -3.6), (2007.2, -1.3),
    (2007.25, -4.7), (2007.3, -6.5), (2007.35, -2.8), (2007.4, -3.9), (2007.45, -5.1),
    (2007.5, -1.9), (2007.55, -4.3), (2007.6, -6.2), (2007.65, -2.3), (2007.7, -3.4),
    (2007.75, -5.5), (2007.8, -1.6), (2007.85, -3.0), (2007.9, -4.5), (2007.95, -2.0),
    (2008.0, -3.3), (2008.05, -1.1), (2008.1, -4.6), (2008.15, -2.2), (2008.2, 0.4),
    (2008.25, -3.0), (2008.3, -1.6), (2008.35, -4.1), (2008.4, -0.6), (2008.45, -2.7),
    (2008.5, -5.0), (2008.55, -1.9), (2008.6, 0.9), (2008.65, -3.5), (2008.7, -2.1),
    (2008.75, -0.3), (2008.8, -4.4), (2008.85, -1.3), (2008.9, -2.9), (2008.95, -0.9),
    (2009.0, -1.5), (2009.05, -3.4), (2009.1, 0.5), (2009.15, -2.3), (2009.2, -0.2),
    (2009.25, 1.0), (2009.3, -1.8), (2009.35, -3.9), (2009.4, 0.2), (2009.45, -2.6),
    (2009.5, -1.0), (2009.55, -4.5), (2009.6, -2.0), (2009.65, -5.4), (2009.7, -3.1),
    (2009.75, -6.3), (2009.8, -4.2), (2009.85, -2.7), (2009.9, -7.0), (2009.95, -5.0),
    (2000.03, -1.7), (2000.13, -3.6), (2000.23, 0.2), (2000.33, -2.5), (2000.43, -4.3),
    (2000.53, -1.2), (2000.63, -3.0), (2000.73, -5.6), (2000.83, -0.5), (2000.93, -2.0),
    (2001.03, -2.6), (2001.13, -0.8), (2001.23, -4.1), (2001.33, -1.9), (2001.43, 0.9),
    (2001.53, -3.3), (2001.63, -1.0), (2001.73, -2.9), (2001.83, -5.0), (2001.93, -0.3),
    (2002.03, -2.2), (2002.13, -3.9), (2002.23, -1.0), (2002.33, -5.1), (2002.43, -0.4),
    (2002.53, -2.8), (2002.63, -4.4), (2002.73, -1.7), (2002.83, -3.4), (2002.93, -6.2),
    (2003.03, -3.5), (2003.13, -1.4), (2003.23, -4.6), (2003.33, -2.6), (2003.43, 0.5),
    (2003.53, -3.9), (2003.63, -5.8), (2003.73, -2.0), (2003.83, -1.1), (2003.93, -4.2),
    (2004.03, -5.3), (2004.13, -3.0), (2004.23, -6.9), (2004.33, -4.2), (2004.43, -8.0),
    (2004.53, -2.2), (2004.63, -5.0), (2004.73, -6.4), (2004.83, -3.5), (2004.93, -4.8),
    (2005.03, -5.9), (2005.13, -3.9), (2005.23, -7.0), (2005.33, -4.6), (2005.43, -6.2),
    (2005.53, -8.9), (2005.63, -5.2), (2005.73, -3.2), (2005.83, -6.7), (2005.93, -4.1),
    (2006.03, -4.3), (2006.13, -2.7), (2006.23, -5.9), (2006.33, -3.7), (2006.43, -1.6),
    (2006.53, -5.0), (2006.63, -6.9), (2006.73, -3.0), (2006.83, -4.6), (2006.93, -2.3),
    (2007.03, -3.2), (2007.13, -5.0), (2007.23, -2.0), (2007.33, -4.0), (2007.43, -6.9),
    (2007.53, -2.9), (2007.63, -3.6), (2007.73, -1.1), (2007.83, -5.3), (2007.93, -2.6),
    (2008.03, -2.4), (2008.13, -0.5), (2008.23, -3.8), (2008.33, -1.4), (2008.43, -4.9),
    (2008.53, -2.0), (2008.63, 0.1), (2008.73, -3.2), (2008.83, -1.7), (2008.93, -3.9),
    (2009.03, -0.8), (2009.13, -2.8), (2009.23, 0.7), (2009.33, -1.4), (2009.43, -3.3),
    (2009.53, -0.4), (2009.63, -2.1), (2009.73, -4.8), (2009.83, -3.6), (2009.93, -6.0),
]
SLR_2010S = [
    (2010.0, -6.0), (2010.05, -3.8), (2010.1, -7.8), (2010.15, -5.1), (2010.2, -9.0),
    (2010.25, -4.4), (2010.3, -6.8), (2010.35, -10.2), (2010.4, -5.6), (2010.45, -8.3),
    (2010.5, -11.0), (2010.55, -3.6), (2010.6, -7.1), (2010.65, -9.6), (2010.7, -5.9),
    (2010.75, -4.8), (2010.8, -8.7), (2010.85, -6.4), (2010.9, -10.1), (2010.95, -7.5),
    (2011.0, -5.2), (2011.05, -7.9), (2011.1, -3.9), (2011.15, -6.5), (2011.2, -9.3),
    (2011.25, -4.6), (2011.3, -6.1), (2011.35, -8.4), (2011.4, -3.2), (2011.45, -5.7),
    (2011.5, -7.3), (2011.55, -4.1), (2011.6, -2.7), (2011.65, -6.0), (2011.7, -8.8),
    (2011.75, -4.9), (2011.8, -3.5), (2011.85, -6.8), (2011.9, -5.3), (2011.95, -2.4),
    (2012.0, -4.6), (2012.05, -2.9), (2012.1, -6.2), (2012.15, -3.8), (2012.2, -1.6),
    (2012.25, -5.1), (2012.3, -3.0), (2012.35, -7.0), (2012.4, -4.2), (2012.45, -2.2),
    (2012.5, -5.6), (2012.55, -3.4), (2012.6, -1.1), (2012.65, -4.7), (2012.7, -6.4),
    (2012.75, -2.6), (2012.8, -3.9), (2012.85, -5.3), (2012.9, -1.9), (2012.95, -4.4),
    (2013.0, -3.1), (2013.05, -5.8), (2013.1, -2.0), (2013.15, -4.5), (2013.2, -0.8),
    (2013.25, -3.6), (2013.3, -6.6), (2013.35, -2.4), (2013.4, -4.9), (2013.45, -1.5),
    (2013.5, -3.3), (2013.55, -5.5), (2013.6, -2.8), (2013.65, -0.5), (2013.7, -4.0),
    (2013.75, -2.1), (2013.8, -6.0), (2013.85, -3.5), (2013.9, -1.3), (2013.95, -4.8),
    (2014.0, -2.6), (2014.05, -5.0), (2014.1, -1.0), (2014.15, -3.7), (2014.2, -6.3),
    (2014.25, -2.0), (2014.3, -4.4), (2014.35, -0.7), (2014.4, -3.0), (2014.45, -5.5),
    (2014.5, -7.4), (2014.55, -2.5), (2014.6, -8.6), (2014.65, -4.7), (2014.7, -9.9),
    (2014.75, -6.4), (2014.8, -8.0), (2014.85, -5.4), (2014.9, -7.1), (2014.95, -6.0),
    (2010.03, -5.0), (2010.13, -7.2), (2010.23, -4.1), (2010.33, -8.5), (2010.43, -6.3),
    (2010.53, -9.9), (2010.63, -5.4), (2010.73, -7.7), (2010.83, -6.9), (2010.93, -4.5),
    (2011.03, -6.3), (2011.13, -4.4), (2011.23, -7.8), (2011.33, -5.5), (2011.43, -3.7),
    (2011.53, -6.9), (2011.63, -8.1), (2011.73, -4.8), (2011.83, -5.9), (2011.93, -3.1),
    (2012.03, -3.6), (2012.13, -5.7), (2012.23, -2.4), (2012.33, -4.5), (2012.43, -6.7),
    (2012.53, -3.1), (2012.63, -1.8), (2012.73, -5.0), (2012.83, -3.9), (2012.93, -2.7),
    (2013.03, -4.2), (2013.13, -2.6), (2013.23, -5.2), (2013.33, -1.9), (2013.43, -3.7),
    (2013.53, -6.2), (2013.63, -2.9), (2013.73, -4.6), (2013.83, -1.2), (2013.93, -3.2),
    (2014.03, -3.8), (2014.13, -1.7), (2014.23, -5.8), (2014.33, -3.1), (2014.43, -6.9),
    (2014.53, -4.1), (2014.63, -7.6), (2014.73, -5.0), (2014.83, -8.9), (2014.93, -6.6),
]

DORIS_1990S = [
    (1993.1, 9.0), (1993.15, 11.8), (1993.2, 7.3), (1993.25, -7.3), (1993.3, 10.5),
    (1993.35, 16.4), (1993.4, 8.1), (1993.45, 12.6), (1993.5, 6.2), (1993.55, 9.9),
    (1993.6, 16.7), (1993.65, 11.0), (1993.7, 7.8), (1993.75, 13.4), (1993.8, 5.5),
    (1993.85, 10.2), (1993.9, -0.3), (1993.92, -11.7), (1993.95, 8.7), (1994.0, 12.1),
    (1994.02, -7.4), (1994.05, 9.4), (1994.1, -14.4), (1994.12, 6.8), (1994.18, 13.6),
    (1994.22, 10.6), (1994.3, 8.0), (1994.35, 11.9), (1994.42, 5.3), (1994.48, 9.6),
    (1994.55, 14.4), (1994.6, 7.4), (1994.67, -3.1), (1994.7, 10.9), (1994.78, 12.8),
    (1994.85, 6.5), (1994.9, 9.1), (1994.97, 11.4), (1995.02, 8.5), (1995.08, 13.0),
    (1995.13, 6.0), (1995.2, 10.3), (1995.27, 14.0), (1995.33, 7.6), (1995.4, 11.5),
    (1995.47, 9.2), (1995.53, 4.8), (1995.6, 12.3), (1995.67, 8.8), (1995.73, 10.9),
    (1995.8, 6.7), (1995.87, 13.5), (1995.93, 9.7), (1996.0, 11.2), (1996.07, 7.1),
    (1996.13, 9.9), (1996.2, 14.3), (1996.27, 5.8), (1996.33, 10.7), (1996.4, 8.3),
    (1996.47, 12.0), (1996.53, 6.4), (1996.6, 15.0), (1996.67, 9.5), (1996.73, 7.7),
    (1996.8, 11.6), (1996.87, 4.4), (1996.93, 10.1), (1997.0, 8.9), (1997.07, 12.7),
    (1997.13, 6.9), (1997.2, 10.4), (1997.27, 15.9), (1997.33, 9.0), (1997.4, 7.3),
    (1997.47, 11.3), (1997.53, 5.1), (1997.6, 13.1), (1997.67, 8.1), (1997.73, 10.8),
    (1997.8, 6.3), (1997.87, 12.5), (1997.93, 9.3), (1998.0, 7.5), (1998.07, 11.1),
    (1998.13, 13.9), (1998.2, 8.6), (1998.27, 5.6), (1998.33, 10.0), (1998.4, 12.9),
    (1998.47, 7.0), (1998.53, 9.8), (1998.6, 14.6), (1998.67, 6.1), (1998.73, 11.7),
    (1998.8, 8.4), (1998.87, 4.6), (1998.93, 10.5), (1999.0, 12.2), (1999.07, 8.2),
    (1999.13, 6.6), (1999.2, 10.9), (1999.27, 13.6), (1999.33, 7.9), (1999.4, 9.6),
    (1999.47, 5.4), (1999.53, 11.4), (1999.6, 8.7), (1999.67, 14.2), (1999.73, 6.9),
    (1999.8, 10.2), (1999.87, 12.6), (1999.93, 7.6),
    (1993.14, 10.6), (1993.24, 8.4), (1993.34, 13.0), (1993.44, 7.0), (1993.54, 11.3),
    (1993.64, 9.2), (1993.74, 14.8), (1993.84, 6.4), (1993.94, 10.0), (1994.04, 8.8),
    (1994.14, 11.7), (1994.24, 7.1), (1994.34, 10.0), (1994.44, 13.2), (1994.54, 8.2),
    (1994.64, 5.9), (1994.74, 11.0), (1994.84, 9.5), (1994.94, 12.3), (1995.04, 10.8),
    (1995.14, 7.9), (1995.24, 12.6), (1995.34, 9.0), (1995.44, 6.2), (1995.54, 11.7),
    (1995.64, 8.4), (1995.74, 13.8), (1995.84, 10.1), (1995.94, 7.3), (1996.04, 9.2),
    (1996.14, 12.4), (1996.24, 8.0), (1996.34, 10.9), (1996.44, 6.9), (1996.54, 13.3),
    (1996.64, 9.7), (1996.74, 11.9), (1996.84, 8.5), (1996.94, 10.4), (1997.04, 11.0),
    (1997.14, 8.2), (1997.24, 13.5), (1997.34, 9.6), (1997.44, 7.1), (1997.54, 12.0),
    (1997.64, 10.2), (1997.74, 8.8), (1997.84, 14.2), (1997.94, 9.9), (1998.04, 9.0),
    (1998.14, 12.0), (1998.24, 7.8), (1998.34, 10.6), (1998.44, 13.1), (1998.54, 8.6),
    (1998.64, 11.4), (1998.74, 9.4), (1998.84, 6.5), (1998.94, 12.9), (1999.04, 10.0),
    (1999.14, 8.0), (1999.24, 11.8), (1999.34, 9.1), (1999.44, 6.4), (1999.54, 12.7),
    (1999.64, 10.5), (1999.74, 7.7), (1999.84, 11.1), (1999.94, 9.3),
]
DORIS_2000S = [
    (2000.0, 9.4), (2000.07, 5.9), (2000.13, 11.9), (2000.2, 8.0), (2000.27, 3.2),
    (2000.33, 10.7), (2000.47, 7.2), (2000.53, 12.4), (2000.6, 2.8), (2000.67, 9.0),
    (2000.73, 6.2), (2000.8, 13.3), (2000.87, 4.5), (2000.93, 8.6), (2001.0, 17.8),
    (2001.07, 10.4), (2001.13, 7.0), (2001.2, 12.8), (2001.27, 8.8), (2001.33, 5.3),
    (2001.4, 11.0), (2001.47, 9.2), (2001.53, 6.5), (2001.6, 13.7), (2001.67, 7.8),
    (2001.73, 10.1), (2001.8, 4.2), (2001.87, 11.6), (2001.93, 8.3), (2002.0, 9.8),
    (2002.07, 14.5), (2002.13, 6.8), (2002.2, 11.2), (2002.27, 8.4), (2002.33, 5.0),
    (2002.4, 12.1), (2002.47, 9.4), (2002.53, 7.3), (2002.6, 13.1), (2002.67, 10.3),
    (2002.73, 6.0), (2002.8, 8.9), (2002.87, 11.8), (2002.93, 7.6), (2003.0, 10.0),
    (2003.07, 6.3), (2003.13, 12.4), (2003.2, 8.1), (2003.27, 5.6), (2003.33, 11.3),
    (2003.4, 9.0), (2003.47, 13.6), (2003.53, 7.0), (2003.6, 4.1), (2003.67, 10.6),
    (2003.73, 8.5), (2003.8, 12.0), (2003.87, 6.6), (2003.93, 9.6), (2004.0, 8.2),
    (2004.07, 11.7), (2004.13, 5.8), (2004.2, 13.9), (2004.27, 9.3), (2004.33, 7.0),
    (2004.4, 12.6), (2004.47, 10.2), (2004.53, 6.1), (2004.6, 14.4), (2004.67, 8.7),
    (2004.73, 11.1), (2004.8, 5.2), (2004.87, 9.8), (2004.93, 12.9), (2005.0, 7.4),
    (2005.07, 10.5), (2005.13, 13.2), (2005.2, 6.4), (2005.27, 9.1), (2005.33, 11.9),
    (2005.4, 7.9), (2005.47, 4.6), (2005.53, 10.8), (2005.6, 8.3), (2005.67, 12.3),
    (2005.73, 6.7), (2005.8, 9.5), (2005.87, 3.9), (2005.93, 11.0), (2006.0, 8.0),
    (2006.07, 10.7), (2006.13, 5.5), (2006.2, 12.8), (2006.27, 7.2), (2006.33, 9.9),
    (2006.4, 6.0), (2006.47, 11.5), (2006.53, 8.6), (2006.6, 4.4), (2006.67, 10.0),
    (2006.73, 13.0), (2006.8, 7.1), (2006.87, 9.3), (2006.93, 5.7), (2007.0, 10.9),
    (2007.07, 7.8), (2007.13, 12.2), (2007.2, 6.2), (2007.27, 9.0), (2007.33, 4.9),
    (2007.4, 11.2), (2007.47, 8.0), (2007.53, 5.9), (2007.6, 10.3), (2007.67, 7.3),
    (2007.73, 3.7), (2007.8, 9.4), (2007.87, 6.4), (2007.93, 8.6), (2008.0, 5.6),
    (2008.07, 8.5), (2008.13, 3.5), (2008.2, 7.0), (2008.27, 4.7), (2008.33, 9.7),
    (2008.4, 2.9), (2008.47, 6.3), (2008.53, 4.0), (2008.6, 8.0), (2008.67, 2.2),
    (2008.73, 5.2), (2008.8, 7.4), (2008.87, 3.1), (2008.93, 6.0), (2009.0, 4.5),
    (2009.07, 1.8), (2009.13, 6.8), (2009.2, 3.3), (2009.27, 5.4), (2009.33, 0.9),
    (2009.4, 4.1), (2009.47, 7.6), (2009.53, 2.6), (2009.6, 5.0), (2009.67, 3.8),
    (2009.73, 0.2), (2009.8, 6.2), (2009.87, 2.9), (2009.93, 4.8),
    (2000.04, 7.9), (2000.14, 10.8), (2000.24, 6.6), (2000.34, 9.7), (2000.44, 12.0),
    (2000.54, 8.3), (2000.64, 4.9), (2000.74, 10.2), (2000.84, 7.3), (2000.94, 11.5),
    (2001.04, 9.5), (2001.14, 6.9), (2001.24, 11.3), (2001.34, 8.0), (2001.44, 12.5),
    (2001.54, 7.4), (2001.64, 10.0), (2001.74, 5.6), (2001.84, 9.0), (2001.94, 12.2),
    (2002.04, 8.1), (2002.14, 10.9), (2002.24, 6.7), (2002.34, 12.6), (2002.44, 9.1),
    (2002.54, 7.7), (2002.64, 11.0), (2002.74, 8.6), (2002.84, 13.5), (2002.94, 9.9),
    (2003.04, 9.4), (2003.14, 7.2), (2003.24, 11.5), (2003.34, 8.4), (2003.44, 10.6),
    (2003.54, 6.1), (2003.64, 12.5), (2003.74, 9.1), (2003.84, 7.9), (2003.94, 11.0),
    (2004.04, 10.4), (2004.14, 7.9), (2004.24, 12.0), (2004.34, 9.2), (2004.44, 6.5),
    (2004.54, 11.2), (2004.64, 8.0), (2004.74, 13.1), (2004.84, 9.6), (2004.94, 7.4),
    (2005.04, 9.0), (2005.14, 11.4), (2005.24, 7.1), (2005.34, 10.3), (2005.44, 5.6),
    (2005.54, 12.6), (2005.64, 8.7), (2005.74, 10.0), (2005.84, 6.9), (2005.94, 9.6),
    (2006.04, 7.6), (2006.14, 10.1), (2006.24, 8.8), (2006.34, 6.5), (2006.44, 11.8),
    (2006.54, 9.4), (2006.64, 7.0), (2006.74, 12.1), (2006.84, 8.2), (2006.94, 10.5),
    (2007.04, 8.5), (2007.14, 6.0), (2007.24, 10.0), (2007.34, 7.4), (2007.44, 9.4),
    (2007.54, 5.2), (2007.64, 8.1), (2007.74, 11.2), (2007.84, 6.7), (2007.94, 7.9),
    (2008.04, 6.4), (2008.14, 4.1), (2008.24, 7.9), (2008.34, 5.2), (2008.44, 3.4),
    (2008.54, 8.6), (2008.64, 5.9), (2008.74, 4.5), (2008.84, 6.9), (2008.94, 2.6),
    (2009.04, 3.4), (2009.14, 5.9), (2009.24, 2.1), (2009.34, 4.6), (2009.44, 6.7),
    (2009.54, 1.4), (2009.64, 3.9), (2009.74, 5.2), (2009.84, 2.5), (2009.94, 7.1),
]
DORIS_2010S = [
    (2010.0, 3.6), (2010.07, 1.2), (2010.13, 5.7), (2010.2, 2.3), (2010.27, 1.6),
    (2010.33, 4.3), (2010.4, 6.9), (2010.47, 0.6), (2010.53, 3.1), (2010.6, 5.3),
    (2010.67, 2.0), (2010.73, 7.8), (2010.8, 4.0), (2010.87, 1.4), (2010.93, 5.9),
    (2011.0, 4.6), (2011.07, 2.5), (2011.13, 6.6), (2011.2, 3.4), (2011.27, 8.2),
    (2011.33, 1.9), (2011.4, 5.5), (2011.47, 3.0), (2011.53, 7.3), (2011.6, 4.9),
    (2011.67, 9.1), (2011.73, 6.1), (2011.8, 10.0), (2011.87, 7.7), (2011.93, 11.2),
    (2012.0, 8.9), (2012.07, 10.6), (2012.13, 7.5), (2012.2, 12.0), (2012.27, 9.5),
    (2012.33, 6.8), (2012.4, 11.4), (2012.47, 8.4), (2012.53, 13.0), (2012.6, 10.1),
    (2012.67, 7.9), (2012.73, 11.8), (2012.8, 9.0), (2012.87, 12.6), (2012.93, 10.4),
    (2013.0, 8.1), (2013.07, 11.5), (2013.13, 13.6), (2013.2, 9.7), (2013.27, 7.2),
    (2013.33, 12.3), (2013.4, 10.2), (2013.47, 8.8), (2013.53, 13.2), (2013.6, 11.0),
    (2013.67, 6.9), (2013.73, 9.9), (2013.8, 12.8), (2013.87, 10.6), (2013.93, 14.1),
    (2014.0, 9.3), (2014.07, 12.1), (2014.13, 10.5), (2014.2, 7.9), (2014.27, 13.5),
    (2014.33, 11.3), (2014.4, 9.0), (2014.47, 14.6), (2014.53, 12.4), (2014.6, 10.0),
    (2014.67, 15.2), (2014.73, 11.8), (2014.8, 13.3), (2014.87, 9.6), (2014.93, 14.0),
    (2010.04, 2.7), (2010.14, 4.9), (2010.24, 0.9), (2010.34, 3.7), (2010.44, 6.1),
    (2010.54, 2.2), (2010.64, 4.4), (2010.74, 1.1), (2010.84, 5.6), (2010.94, 3.0),
    (2011.04, 3.8), (2011.14, 5.6), (2011.24, 2.8), (2011.34, 6.9), (2011.44, 4.2),
    (2011.54, 8.0), (2011.64, 5.0), (2011.74, 9.6), (2011.84, 7.0), (2011.94, 10.8),
    (2012.04, 9.8), (2012.14, 8.0), (2012.24, 11.2), (2012.34, 9.2), (2012.44, 12.4),
    (2012.54, 7.6), (2012.64, 10.7), (2012.74, 13.5), (2012.84, 8.6), (2012.94, 11.6),
    (2013.04, 10.9), (2013.14, 9.0), (2013.24, 12.4), (2013.34, 8.4), (2013.44, 11.6),
    (2013.54, 13.9), (2013.64, 9.6), (2013.74, 12.0), (2013.84, 10.3), (2013.94, 14.6),
    (2014.04, 11.0), (2014.14, 13.6), (2014.24, 9.9), (2014.34, 12.6), (2014.44, 14.9),
    (2014.54, 10.7), (2014.64, 13.0), (2014.74, 11.6), (2014.84, 15.5), (2014.94, 12.2),
]
DORIS_C = [
    (1993.58, 12.0), (1993.71, 9.6), (1993.83, 7.5), (1993.96, 11.8),
    (1994.09, 10.4), (1994.21, 7.7), (1994.33, 12.9), (1994.46, 9.0), (1994.58, 13.9),
    (1994.71, 6.3), (1994.83, 10.7), (1994.96, 8.1), (1995.09, 9.5), (1995.21, 11.9),
    (1995.33, 6.8), (1995.46, 10.6), (1995.58, 8.0), (1995.71, 14.7), (1995.83, 9.1),
    (1995.96, 12.0), (1996.09, 10.0), (1996.21, 7.5), (1996.33, 13.0), (1996.46, 8.7),
    (1996.58, 11.1), (1996.71, 6.2), (1996.83, 9.9), (1996.96, 12.8), (1997.09, 7.9),
    (1997.21, 11.6), (1997.33, 9.4), (1997.46, 13.6), (1997.58, 6.6), (1997.71, 10.3),
    (1997.83, 8.5), (1997.96, 11.9), (1998.09, 11.3), (1998.21, 8.9), (1998.33, 6.9),
    (1998.46, 12.4), (1998.58, 9.9), (1998.71, 7.4), (1998.83, 13.3), (1998.96, 10.7),
    (1999.09, 8.5), (1999.21, 12.9), (1999.33, 10.3), (1999.46, 7.2), (1999.58, 11.0),
    (1999.71, 9.3), (1999.83, 13.1), (1999.96, 8.1), (2000.09, 10.6), (2000.21, 7.6),
    (2000.33, 12.9), (2000.46, 9.0), (2000.58, 5.4), (2000.71, 11.4), (2000.83, 8.2),
    (2000.96, 10.0), (2001.09, 8.6), (2001.21, 11.9), (2001.33, 9.7), (2001.46, 7.1),
    (2001.58, 10.7), (2001.71, 13.0), (2001.83, 8.4), (2001.96, 10.4), (2002.09, 10.6),
    (2002.21, 7.9), (2002.33, 12.3), (2002.46, 9.5), (2002.58, 11.4), (2002.71, 6.4),
    (2002.83, 10.2), (2002.96, 8.8), (2003.09, 11.7), (2003.21, 8.8), (2003.33, 10.3),
    (2003.46, 7.5), (2003.58, 12.8), (2003.71, 9.5), (2003.83, 6.9), (2003.96, 10.7),
    (2004.09, 9.0), (2004.21, 12.2), (2004.33, 7.7), (2004.46, 10.6), (2004.58, 8.4),
    (2004.71, 11.6), (2004.83, 6.7), (2004.96, 10.0), (2005.09, 10.2), (2005.21, 8.0),
    (2005.33, 12.0), (2005.46, 9.3), (2005.58, 6.1), (2005.71, 11.2), (2005.83, 8.9),
    (2005.96, 7.7), (2006.09, 9.0), (2006.21, 11.3), (2006.33, 7.7), (2006.46, 10.3),
    (2006.58, 8.5), (2006.71, 5.3), (2006.83, 9.6), (2006.96, 11.0), (2007.09, 9.8),
    (2007.21, 7.2), (2007.33, 8.8), (2007.46, 6.0), (2007.58, 10.2), (2007.71, 7.9),
    (2007.83, 4.8), (2007.96, 9.0), (2008.09, 7.0), (2008.21, 5.0), (2008.33, 8.9),
    (2008.46, 3.9), (2008.58, 6.6), (2008.71, 4.7), (2008.83, 7.7), (2008.96, 3.6),
    (2009.09, 5.6), (2009.21, 2.8), (2009.33, 4.4), (2009.46, 6.3), (2009.58, 1.9),
    (2009.71, 3.6), (2009.83, 5.6), (2009.96, 1.0), (2010.09, 4.6), (2010.21, 2.0),
    (2010.33, 3.4), (2010.46, 5.4), (2010.58, 1.8), (2010.71, 6.5), (2010.83, 2.5),
    (2010.96, 4.0), (2011.09, 3.1), (2011.21, 6.2), (2011.33, 4.4), (2011.46, 2.4),
    (2011.58, 7.1), (2011.71, 8.6), (2011.83, 6.4), (2011.96, 9.9), (2012.09, 8.4),
    (2012.21, 11.0), (2012.33, 9.9), (2012.46, 12.9), (2012.58, 8.9), (2012.71, 11.3),
    (2012.83, 9.7), (2012.96, 12.2), (2013.09, 9.3), (2013.21, 12.7), (2013.33, 10.6),
    (2013.46, 11.9), (2013.58, 9.0), (2013.71, 13.0), (2013.83, 10.9), (2013.96, 12.6),
    (2014.09, 12.6), (2014.21, 10.2), (2014.33, 14.2), (2014.46, 11.5), (2014.58, 13.9),
    (2014.71, 9.5), (2014.83, 12.8), (2014.96, 14.5),
]

# predicted scale lines (end points)
LINE_YEARS = [1981.0, 2015.0]
ROBOT_MM = [6.5, 8.5]
CHAMBER_MM = [4.15, 6.15]

SERIES = ["VLBI", "SLR", "DORIS",
          "Predicted scale (robot calibrations)",
          "Predicted scale (chamber calibrations)"]
COLORS = ["#ff0000", "#00ff00", "#add8e6", "#ff00ff", "#0000ff"]

X_TICKS = [1985, 1990, 1995, 2000, 2005, 2010]
Y_TICKS = [-20, -15, -10, -5, 0, 5, 10, 15, 20]

# area covered by the white legend box (in data units)
LEGEND_BOX = {"x": 1981.0, "x2": 1988.14, "y": -2.7, "y2": -17.7}

# ---------------- build tables ----------------
rows = []
for name, groups in [("VLBI", [VLBI_EARLY, VLBI_1990S, VLBI_2000S, VLBI_2000S_B,
                               VLBI_2000S_C, VLBI_2010S, VLBI_2010S_B, VLBI_2010S_C]),
                     ("SLR", [SLR_1990S, SLR_2000S, SLR_2010S]),
                     ("DORIS", [DORIS_1990S, DORIS_2000S, DORIS_2010S, DORIS_C])]:
    for g in groups:
        for yr, v in g:
            rows.append({"year": yr, "mm": v, "series": name})
pts = pd.DataFrame(rows)

robot = pd.DataFrame({"year": LINE_YEARS, "mm": ROBOT_MM})
chamber = pd.DataFrame({"year": LINE_YEARS, "mm": CHAMBER_MM})
box = pd.DataFrame([LEGEND_BOX])

FONT = "Liberation Sans"
xscale = alt.Scale(domain=[1981, 2015], nice=False, zero=False)
yscale = alt.Scale(domain=[-20, 20], nice=False, zero=False)

xaxis = alt.Axis(values=X_TICKS, format="d", grid=False, title=None,
                 domainColor="black", domainWidth=2, tickColor="black",
                 tickSize=4, tickWidth=1, labelFont=FONT, labelFontSize=11.5,
                 labelColor="black", labelPadding=3)
yaxis = alt.Axis(values=Y_TICKS, grid=True, gridColor="#8f8f8f", gridWidth=1.6,
                 gridOpacity=1, title="[mm]", titleFont=FONT, titleFontSize=14,
                 titleFontWeight="normal", titleColor="black", titleX=-57,
                 titleY=171.5, titleAngle=270, titleAlign="center",
                 titleBaseline="middle", domainColor="black", domainWidth=2,
                 tickColor="#8f8f8f", tickSize=15, tickWidth=1.6,
                 labelFont=FONT, labelFontSize=11.5, labelColor="black",
                 labelPadding=5)

points = alt.Chart(pts).mark_circle(size=22, opacity=1).encode(
    x=alt.X("year:Q", scale=xscale, axis=xaxis),
    y=alt.Y("mm:Q", scale=yscale, axis=yaxis),
    color=alt.Color("series:N",
                    scale=alt.Scale(domain=SERIES, range=COLORS),
                    sort=SERIES,
                    legend=alt.Legend(title=None, orient="none", legendX=10,
                                      legendY=205, labelFont=FONT,
                                      labelFontSize=19, labelColor="black",
                                      labelLimit=0, symbolType="circle",
                                      symbolSize=120, symbolStrokeWidth=0,
                                      symbolOpacity=1, rowPadding=3,
                                      labelOffset=0, padding=0)),
)

box_layer = alt.Chart(box).mark_rect(color="white").encode(
    x="x:Q", x2="x2:Q", y="y:Q", y2="y2:Q")

robot_line = alt.Chart(robot).mark_line(color="#ff00ff", strokeWidth=9,
                                         strokeCap="butt").encode(
    x="year:Q", y="mm:Q")
chamber_line = alt.Chart(chamber).mark_line(color="#0000ff", strokeWidth=9,
                                             strokeCap="butt").encode(
    x="year:Q", y="mm:Q")

frame = alt.Chart(pd.DataFrame({"x": [2015.0], "y": [-20.0], "y2": [20.0]})).mark_rule(
    color="black", strokeWidth=2).encode(x="x:Q", y="y:Q", y2="y2:Q")

chart = alt.layer(points, box_layer, robot_line, chamber_line, frame).properties(
    width=686, height=343,
    padding={"left": 72, "top": 12, "right": 10, "bottom": 21},
    autosize=alt.AutoSizeParams(type="none"),
).configure_view(stroke=None).configure(background="white")

chart.save("out.html", embed_options={"renderer": "svg", "actions": False})
